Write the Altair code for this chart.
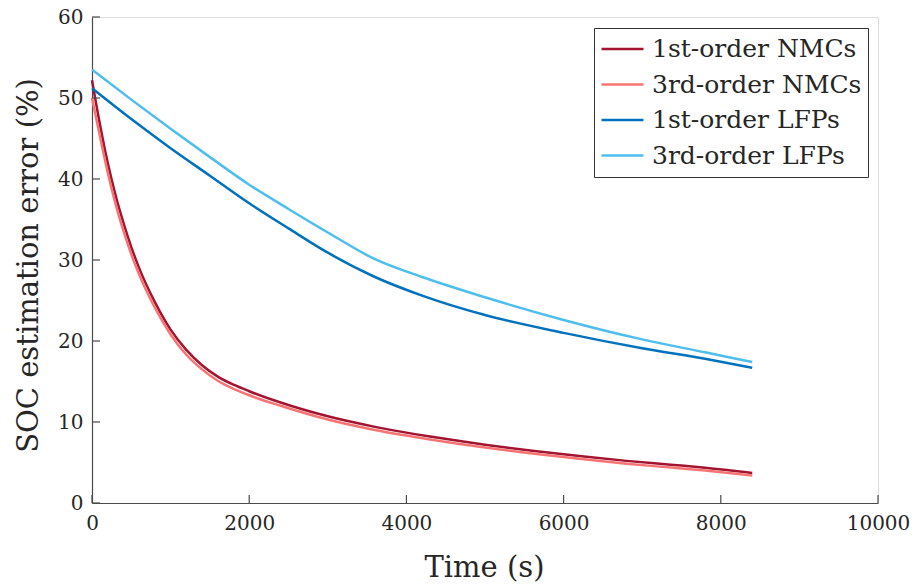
import altair as alt
import pandas as pd

# ---- data ----
series_names = ["1st-order NMCs", "3rd-order NMCs", "1st-order LFPs", "3rd-order LFPs"]
series_colors = ["#A2142F", "#F87474", "#0072BD", "#4DBEEE"]

nmc_t = [0, 100, 200, 300, 400, 500, 600, 800, 1000, 1200, 1400, 1600, 1800,
         2000, 2400, 3000, 3600, 4300, 5000, 5600, 6200, 6800, 7400, 7800, 8400]
nmc1_v = [52.2, 46.8, 42.0, 38.0, 34.6, 31.6, 29.0, 24.8, 21.4, 18.9, 17.0, 15.6, 14.6,
          13.8, 12.4, 10.7, 9.4, 8.2, 7.2, 6.45, 5.8, 5.2, 4.7, 4.35, 3.7]
nmc3_v = [50.0, 45.3, 40.8, 36.9, 33.6, 30.7, 28.2, 24.1, 20.8, 18.3, 16.5, 15.1, 14.1,
          13.3, 12.0, 10.3, 9.0, 7.85, 6.85, 6.1, 5.45, 4.85, 4.35, 4.0, 3.4]

lfp_t = [0, 500, 1000, 1500, 2000, 2500, 3000, 3600, 4200, 5000, 6000, 7000, 7800, 8400]
lfp1_v = [51.2, 47.4, 43.8, 40.4, 37.0, 33.9, 30.9, 27.9, 25.6, 23.2, 21.0, 19.1, 17.8, 16.7]
lfp3_v = [53.5, 49.8, 46.2, 42.7, 39.3, 36.3, 33.4, 30.1, 27.9, 25.4, 22.6, 20.2, 18.6, 17.4]

x_ticks = [0, 2000, 4000, 6000, 8000, 10000]
y_ticks = [0, 10, 20, 30, 40, 50, 60]

rows = []
for name, ts, vs in [(series_names[0], nmc_t, nmc1_v), (series_names[1], nmc_t, nmc3_v),
                     (series_names[2], lfp_t, lfp1_v), (series_names[3], lfp_t, lfp3_v)]:
    for t, v in zip(ts, vs):
        rows.append({"series": name, "t": t, "v": v, "order": series_names.index(name)})
df = pd.DataFrame(rows)

W, H = 786, 486
FONT = "DejaVu Serif"
AX = "#4a4a4a"
TXT = "#262626"

xscale = alt.Scale(domain=[0, 10000], nice=False, zero=False)
yscale = alt.Scale(domain=[0, 60], nice=False, zero=False)

lines = alt.Chart(df).mark_line(strokeWidth=2.5, interpolate="monotone").encode(
    x=alt.X("t:Q", scale=xscale,
            axis=alt.Axis(values=x_ticks, format="d", title="Time (s)", grid=False,
                          tickSize=0, domainColor=AX, domainWidth=1.2, labelFlush=False,
                          labelFont=FONT, labelFontSize=20, labelColor=TXT, labelPadding=10,
                          titleFont=FONT, titleFontSize=29, titleFontWeight="normal", titleColor=TXT,
                          titleX=392, titleY=73, titleBaseline="alphabetic", titleAlign="center")),
    y=alt.Y("v:Q", scale=yscale,
            axis=alt.Axis(values=y_ticks, format="d", title="SOC estimation error (%)", grid=False,
                          tickSize=0, domainColor=AX, domainWidth=1.2, labelFlush=False,
                          labelFont=FONT, labelFontSize=20, labelColor=TXT, labelPadding=9,
                          titleFont=FONT, titleFontSize=29, titleFontWeight="normal", titleColor=TXT,
                          titleX=-64, titleY=248, titleAngle=270, titleBaseline="middle",
                          titleAlign="center")),
    color=alt.Color("series:N",
                    scale=alt.Scale(domain=series_names, range=series_colors),
                    legend=alt.Legend(title=None, orient="none", legendX=502, legendY=11,
                                      symbolType="stroke", symbolSize=1764, symbolStrokeWidth=2.5,
                                      clipHeight=30, rowPadding=5.5, padding=6, labelOffset=7,
                                      labelFont=FONT, labelFontSize=25, labelColor=TXT,
                                      strokeColor="#333333", fillColor="white",
                                      labelLimit=400)),
    order=alt.Order("order:Q"),
    detail="series:N",
)

xt = pd.DataFrame({"t": x_ticks})
yt = pd.DataFrame({"v": y_ticks})
xtick_marks = alt.Chart(xt).mark_rule(color=AX, strokeWidth=1.2).encode(
    x=alt.X("t:Q", scale=xscale), y=alt.value(H), y2=alt.value(H - 8))
ytick_marks = alt.Chart(yt).mark_rule(color=AX, strokeWidth=1.2).encode(
    y=alt.Y("v:Q", scale=yscale), x=alt.value(0), x2=alt.value(8))

chart = alt.layer(lines, xtick_marks, ytick_marks).properties(
    width=W, height=H,
    autosize=alt.AutoSizeParams(type="none"),
    padding={"left": 92, "top": 17, "right": 39, "bottom": 81},
).configure_view(stroke=None).configure(background="white")

chart.save("out.html", embed_options={"renderer": "svg", "actions": False})
